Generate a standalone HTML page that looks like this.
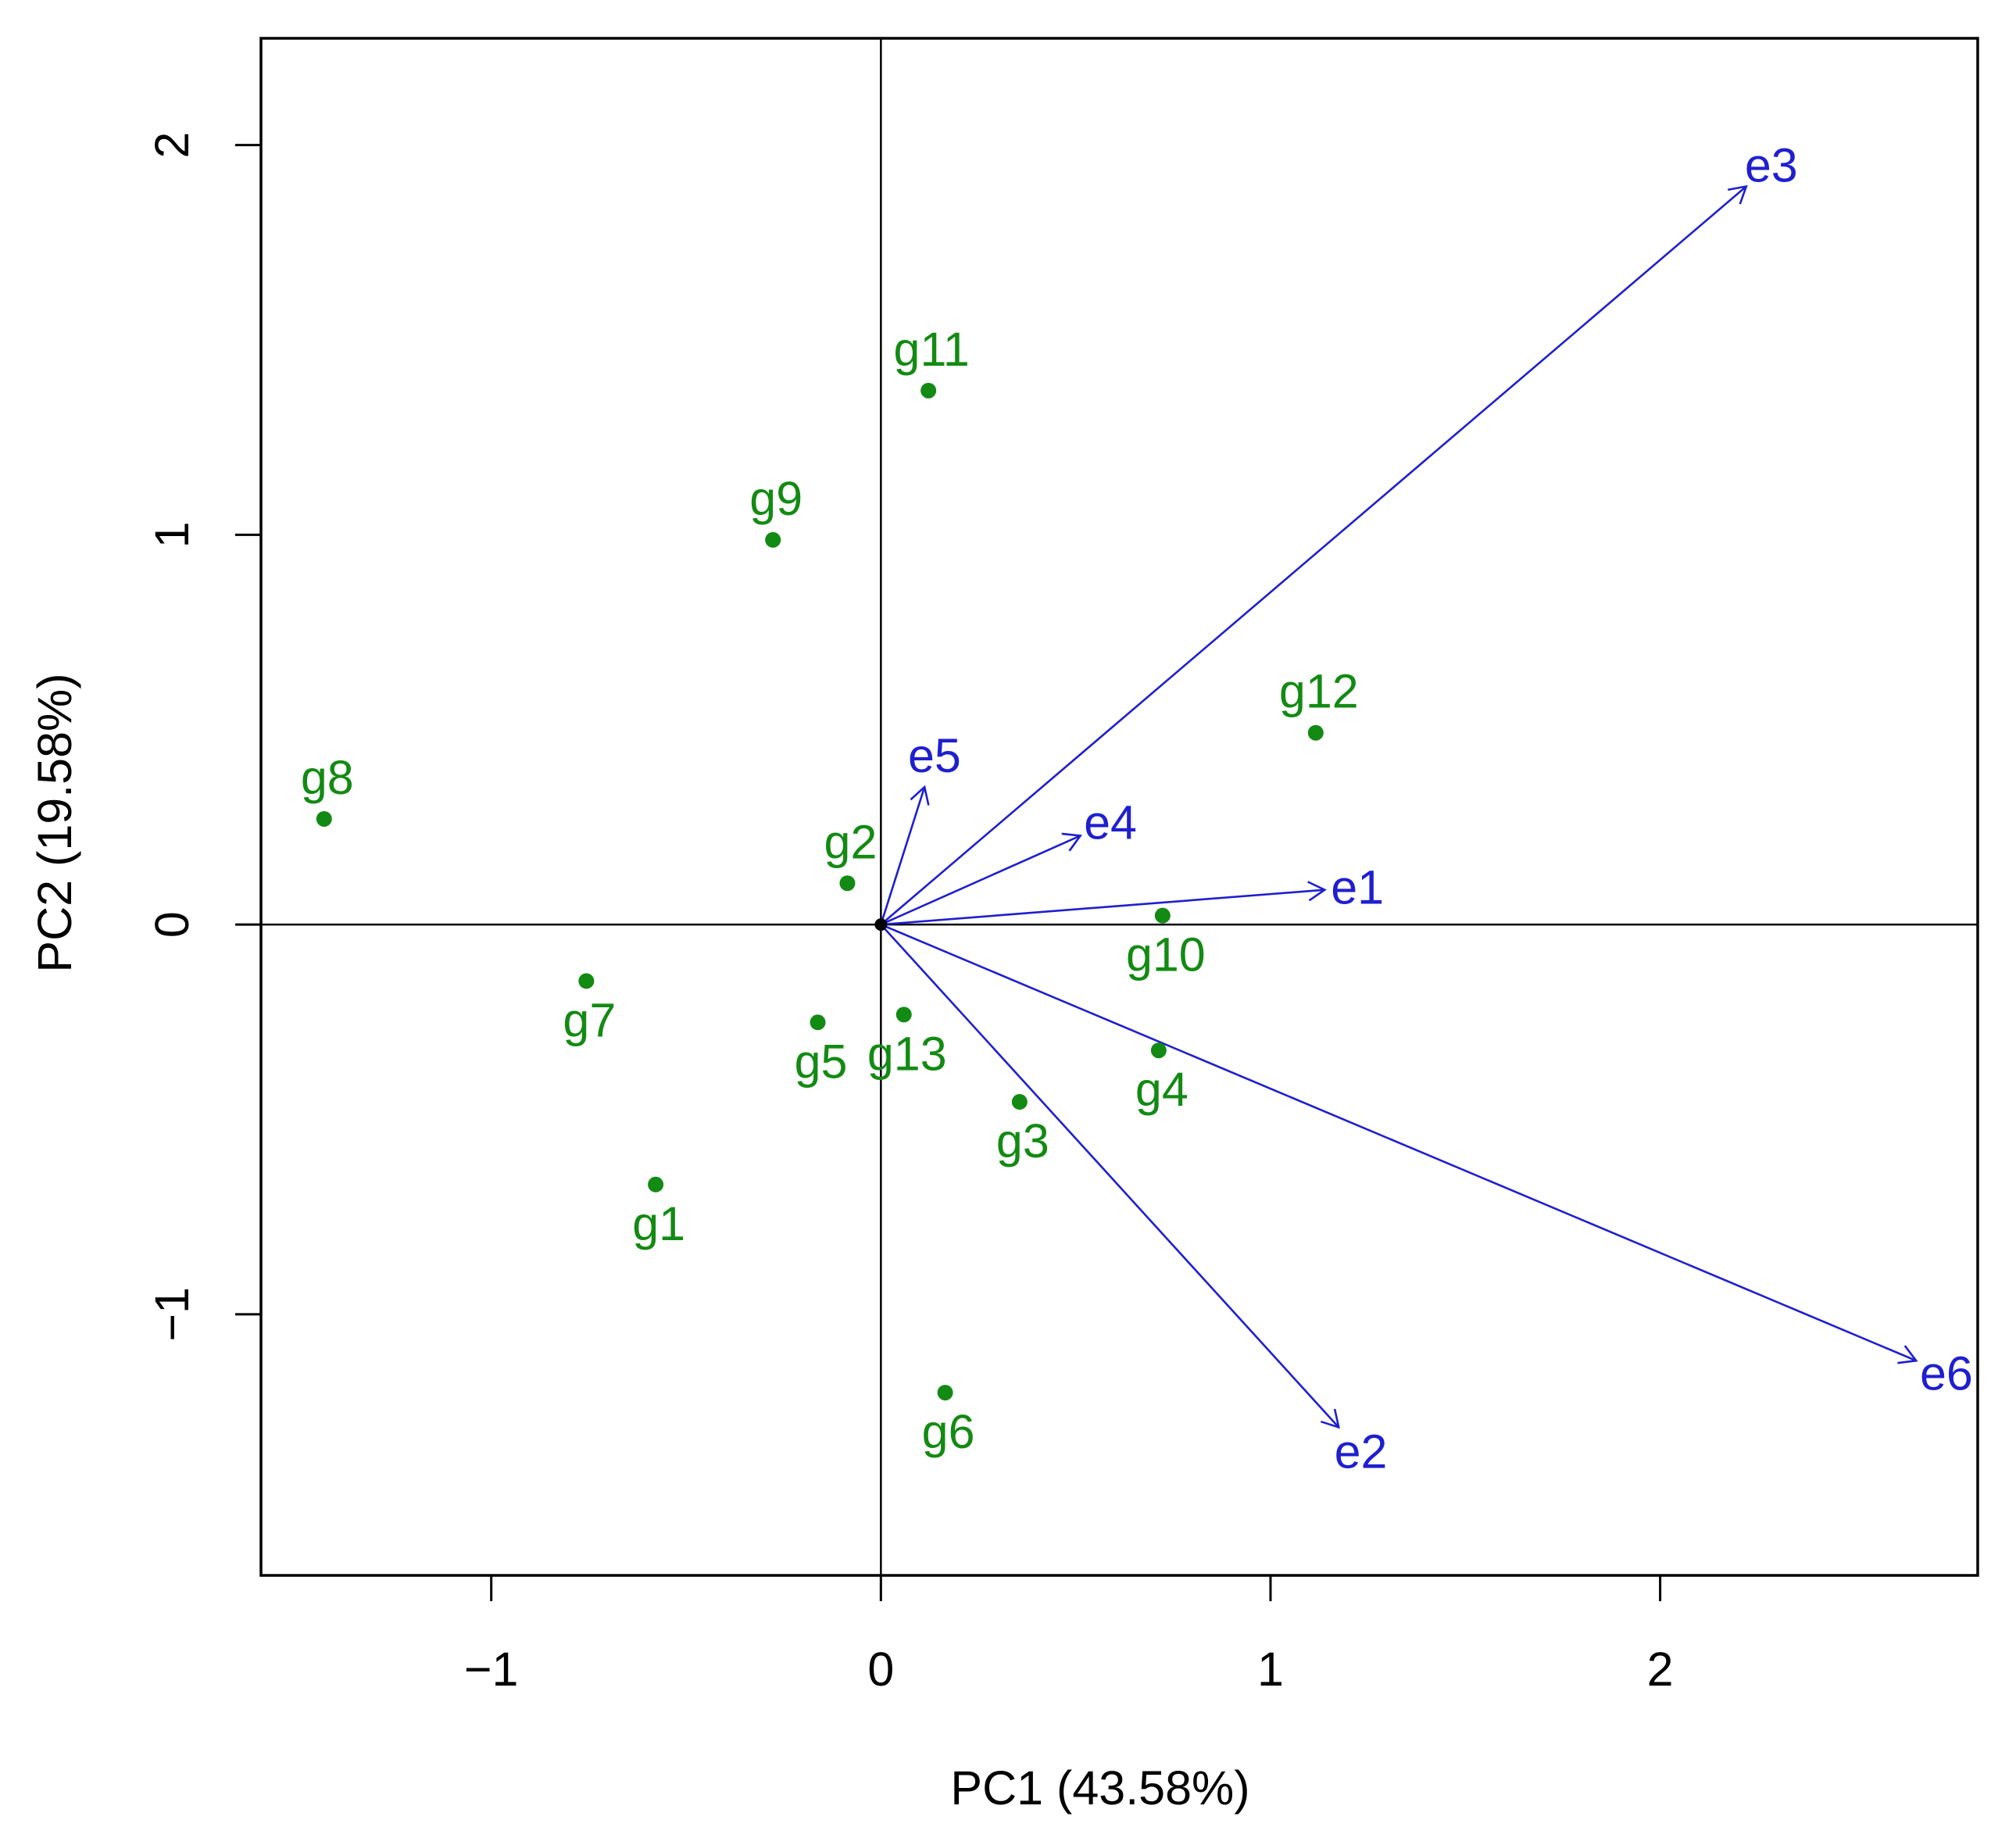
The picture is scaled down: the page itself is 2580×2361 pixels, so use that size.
<!DOCTYPE html>
<html><head><meta charset="utf-8"><style>
html,body{margin:0;padding:0;background:#fff;}
svg{display:block;font-family:"Liberation Sans",Arial,sans-serif;}
</style></head><body>
<svg id="chart" width="2580" height="2361" viewBox="0 0 2580 2361" xmlns="http://www.w3.org/2000/svg"></svg>
<script>
const genotypeNames = ["g1","g2","g3","g4","g5","g6","g7","g8","g9","g10","g11","g12","g13"];
const genotypePC1 = [-0.578,-0.086,0.356,0.713,-0.162,0.165,-0.756,-1.429,-0.277,0.723,0.122,1.116,0.059];
const genotypePC2 = [-0.667,0.106,-0.455,-0.323,-0.251,-1.201,-0.145,0.271,0.987,0.023,1.370,0.492,-0.231];
const genotypeLabelSide = ["below","above","below","below","below","below","below","above","above","below","above","above","below"];
const envNames = ["e1","e2","e3","e4","e5","e6"];
const envPC1 = [1.139,1.175,2.221,0.512,0.112,2.657];
const envPC2 = [0.089,-1.290,1.894,0.228,0.353,-1.119];
const xTicks = [-1,0,1,2];
const yTicks = [-1,0,1,2];
const xTickLabels = ["\u22121","0","1","2"];
const yTickLabels = ["\u22121","0","1","2"];

const L=334,R=2531,T=49,B=2016;
const xMin=-1.591,xMax=2.815,yMin=-1.670,yMax=2.274;
const sx=v=>L+(v-xMin)/(xMax-xMin)*(R-L);
const sy=v=>B-(v-yMin)/(yMax-yMin)*(B-T);
const svg=document.getElementById('chart');
const NS="http://www.w3.org/2000/svg";
const FS=61;
function mk(tag,attrs,parent){const e=document.createElementNS(NS,tag);for(const k in attrs)e.setAttribute(k,attrs[k]);(parent||svg).appendChild(e);return e;}

let e=mk('line',{x1:sx(0),y1:T,x2:sx(0),y2:B,stroke:'#000','stroke-width':2.5});


e=mk('line',{x1:L,y1:sy(0),x2:R,y2:sy(0),stroke:'#000','stroke-width':2.5});



xTicks.forEach((t,i)=>{
  const x=sx(t);
  const tk=mk('line',{x1:x,y1:B,x2:x,y2:B+33,stroke:'#000','stroke-width':3});
  
  
  const tx=mk('text',{x:x,y:2157,'font-size':FS,'text-anchor':'middle',fill:'#000'});
  tx.textContent=xTickLabels[i];
  
  
});
yTicks.forEach((t,i)=>{
  const y=sy(t);
  const tk=mk('line',{x1:L,y1:y,x2:L-33,y2:y,stroke:'#000','stroke-width':3});
  
  
  const tx=mk('text',{x:0,y:0,'font-size':FS,'text-anchor':'middle',fill:'#000',transform:`translate(241,${y}) rotate(-90)`});
  tx.textContent=yTickLabels[i];
  
  
});

const blue='#1f1fcf';
envNames.forEach((n,i)=>{
  const x0=sx(0),y0=sy(0),x1=sx(envPC1[i]),y1=sy(envPC2[i]);
  const g=mk('g',{});
  
  
  mk('line',{x1:x0,y1:y0,x2:x1,y2:y1,stroke:blue,'stroke-width':2.6},g);
  const a=Math.atan2(y1-y0,x1-x0),h=24,s=Math.PI/6;
  mk('polyline',{points:`${x1-h*Math.cos(a-s)},${y1-h*Math.sin(a-s)} ${x1},${y1} ${x1-h*Math.cos(a+s)},${y1-h*Math.sin(a+s)}`,fill:'none',stroke:blue,'stroke-width':2.6},g);
  const lx=x1+42*Math.cos(a),ly=y1+42*Math.sin(a);
  const tx=mk('text',{x:lx,y:ly+21,'font-size':FS,'text-anchor':'middle',fill:blue},g);
  tx.textContent=n;
  
  
});

e=mk('circle',{cx:sx(0),cy:sy(0),r:8,fill:'#000'});



const green='#138a13';
genotypeNames.forEach((n,i)=>{
  const x=sx(genotypePC1[i]),y=sy(genotypePC2[i]);
  const g=mk('g',{});
  
  
  mk('circle',{cx:x,cy:y,r:10,fill:green},g);
  const dy=genotypeLabelSide[i]==='above'?-53:50;
  const tx=mk('text',{x:x+4,y:y+dy+21,'font-size':FS,'text-anchor':'middle',fill:green},g);
  tx.textContent=n;
  
  
});

e=mk('rect',{x:L,y:T,width:R-L,height:B-T,fill:'none',stroke:'#000','stroke-width':3.5});



e=mk('text',{x:1408,y:2309,'font-size':FS,'text-anchor':'middle',fill:'#000'});
e.textContent='PC1 (43.58%)';


e=mk('text',{x:0,y:0,'font-size':FS,'text-anchor':'middle',fill:'#000',transform:'translate(91,1053) rotate(-90)'});
e.textContent='PC2 (19.58%)';


</script>
</body></html>
